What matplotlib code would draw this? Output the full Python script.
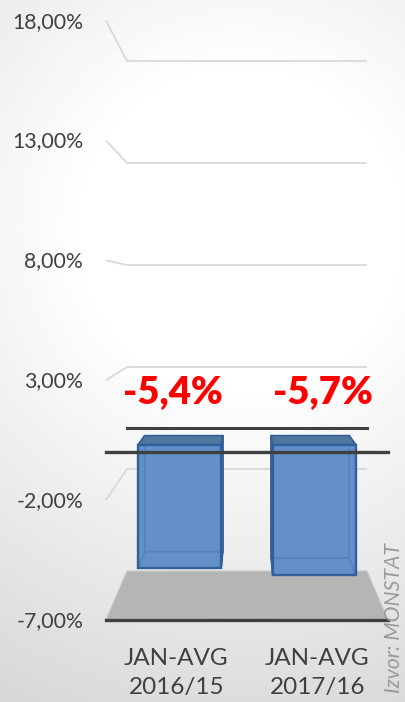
import numpy as np
import matplotlib
matplotlib.use("Agg")
import matplotlib.pyplot as plt
from matplotlib.patches import Polygon

# ---- data ----
categories = ["JAN-AVG\n2016/15", "JAN-AVG\n2017/16"]
values = [-5.4, -5.7]
tick_values = [18, 13, 8, 3, -2, -7]
tick_labels = ["18,00%", "13,00%", "8,00%", "3,00%", "-2,00%", "-7,00%"]
source_text = "Izvor: MONSTAT"

# ---- perspective layout (style) ----
UC, VC, DEPTH = 0.5, 6.68, 0.175
T_BAR0, T_BAR1 = 0.31, 0.69
HALF_W = 0.308
FLOOR_V = min(tick_values)


def proj(u, v, t):
    s = 1 + DEPTH * t
    return (UC + (u - UC) * s, VC + (v - VC) * s)


plt.rcParams['font.family'] = ['Lato', 'DejaVu Sans']
fig = plt.figure(figsize=(4.05, 7.02), dpi=100)

# background radial gradient
bg = fig.add_axes([0, 0, 1, 1])
yy, xx = np.mgrid[0:702, 0:405]
r = np.hypot(xx - 240, yy - 230)
c = np.clip(255 - 0.109 * np.clip(r - 164, 0, None), 0, 255) / 255
bg.imshow(np.dstack([c, c, c]), extent=[0, 405, 702, 0], aspect='auto')
bg.set_xlim(0, 405)
bg.set_ylim(702, 0)
bg.axis('off')

ax = fig.add_axes([0, 0, 1, 1])
ax.patch.set_alpha(0)
ax.set_xlim(-1.558, 1.817)
ax.set_ylim(-13.42, 20.99)
ax.axis('off')

ncat = len(categories)
u_left, u_right = -0.5, ncat - 0.5
grid_c = '#d9d9d9'
txt_c = '#404040'

# gridlines: back wall + side wall
for tv in tick_values:
    if tv == FLOOR_V:
        continue
    p_front = proj(u_left, tv, 1)
    p_back_l = proj(u_left, tv, 0)
    p_back_r = proj(u_right, tv, 0)
    ax.plot([p_front[0], p_back_l[0], p_back_r[0]],
            [p_front[1], p_back_l[1], p_back_r[1]],
            color=grid_c, lw=1.3, solid_capstyle='butt', zorder=1)

# floor
floor = [proj(u_left, FLOOR_V, 0), proj(u_right, FLOOR_V, 0),
         proj(u_right, FLOOR_V, 1), proj(u_left, FLOOR_V, 1)]
ax.add_patch(Polygon(floor, closed=True, facecolor='#b5b5b5',
                     edgecolor='#c8c8c8', lw=0.8, zorder=2))

# back zero line
p0 = proj(u_left, 0, 0)
p1 = proj(u_right, 0, 0)
ax.plot([p0[0], p1[0]], [p0[1], p1[1]], color='#404040', lw=2.2, zorder=3)

# bars
C = '#6490c8'
E = '#33609c'
TOPC = '#52779f'
for i, v in enumerate(values):
    u0, u1 = i - HALF_W, i + HALF_W
    vt, vb = max(0, v), min(0, v)
    P = proj
    back = [P(u0, vt, T_BAR0), P(u1, vt, T_BAR0), P(u1, vb, T_BAR0), P(u0, vb, T_BAR0)]
    front = [P(u0, vt, T_BAR1), P(u1, vt, T_BAR1), P(u1, vb, T_BAR1), P(u0, vb, T_BAR1)]
    bottom = [P(u0, vb, T_BAR0), P(u1, vb, T_BAR0), P(u1, vb, T_BAR1), P(u0, vb, T_BAR1)]
    left = [P(u0, vt, T_BAR0), P(u0, vb, T_BAR0), P(u0, vb, T_BAR1), P(u0, vt, T_BAR1)]
    right = [P(u1, vt, T_BAR0), P(u1, vb, T_BAR0), P(u1, vb, T_BAR1), P(u1, vt, T_BAR1)]
    top = [P(u0, vt, T_BAR0), P(u1, vt, T_BAR0), P(u1, vt, T_BAR1), P(u0, vt, T_BAR1)]
    for face in (back, bottom, left, right):
        ax.add_patch(Polygon(face, closed=True, facecolor=C, edgecolor=E,
                             lw=1.2, zorder=4))
    ax.add_patch(Polygon(top, closed=True, facecolor=TOPC, edgecolor=E,
                         lw=1.2, zorder=5))
    ax.add_patch(Polygon(front, closed=True, facecolor=C, edgecolor=E,
                         lw=1.6, alpha=0.75, zorder=6))
    ax.add_patch(Polygon(front, closed=True, facecolor='none', edgecolor=E,
                         lw=1.6, zorder=6))
    # data label
    lx = proj(i, 0, 1)[0] - 0.03 + 0.075 * i
    ax.text(lx, 1.77, f"{v:.1f}%".replace('.', ','), color='#ff0000',
            fontsize=27.5, fontweight='heavy', ha='center', va='center', zorder=8)
    # category label
    cx = proj(i, FLOOR_V, 1)[0]
    ax.text(cx, -12.0, categories[i], color=txt_c, fontsize=17.5,
            ha='center', va='center', linespacing=1.42, zorder=8)

# front zero line and floor front edge
for lv in (0, FLOOR_V):
    p0 = proj(u_left, lv, 1)
    p1 = proj(u_right, lv, 1)
    ax.plot([p0[0], p1[0]], [p0[1], p1[1]], color='#404040', lw=2.4, zorder=7)

# tick labels
tx = proj(u_left, 0, 1)[0] - 0.19
for tv, tl in zip(tick_values, tick_labels):
    ty = proj(u_left, tv, 1)[1]
    ax.text(tx, ty - 0.05, tl, color=txt_c, fontsize=15.3,
            ha='right', va='center', zorder=8)

ax.text(0.972, 0.2265, source_text, transform=ax.transAxes, rotation=90,
        color='#9a9a9a', fontsize=15.3, fontstyle='italic',
        ha='center', va='top', zorder=8)

fig.savefig('out.png', dpi=100)
